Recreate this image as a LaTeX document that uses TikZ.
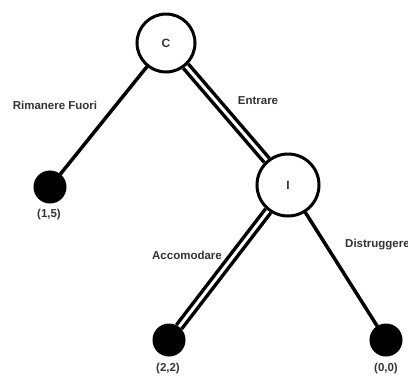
\documentclass[tikz,border=0pt]{standalone}
\usepackage{fontspec}
\setmainfont{Liberation Sans}
\usetikzlibrary{backgrounds}
\begin{document}
\begin{tikzpicture}[x=1pt,y=-1pt,
  decision/.style={circle,draw=black,line width=3pt,fill=white,inner sep=0pt,minimum size=#1,
    font=\fontsize{12}{13}\selectfont\bfseries,text=black!80},
  leaf/.style={circle,fill=black,draw=black,line width=1pt,inner sep=0pt,minimum size=32pt},
  lbl/.style={font=\fontsize{11.5}{13}\selectfont\bfseries,text=black!80,inner sep=0pt},
  move/.style={line width=3.5pt,line cap=round},
  chosen/.style={double=white,double distance=3pt,line width=3.5pt}]
\useasboundingbox (0,0) rectangle (408,378);
% decision nodes
\node[decision=58pt] (c) at (166,43) {C};
\node[decision=62pt] (i) at (288,185) {I};
% terminal nodes
\node[leaf] (l15) at (50,187) {};
\node[leaf] (l22) at (169,340) {};
\node[leaf] (l00) at (386,340) {};
% branches, kept behind the nodes
\begin{scope}[on background layer]
\draw[move] (c) -- (l15);
\draw[chosen] (c) -- (i);
\draw[chosen] (i) -- (l22);
\draw[move] (i) -- (l00);
\end{scope}
% labels
\node[lbl] (tRF) at (55,105) {Rimanere Fuori};
\node[lbl] (tEn) at (258,101) {Entrare};
\node[lbl] (tAc) at (187,255) {Accomodare};
\node[lbl,anchor=west] (tDi) at (345,245) {Distruggere};
\node[lbl] (p15) at (49,215) {(1,5)};
\node[lbl] (p22) at (168,369) {(2,2)};
\node[lbl] (p00) at (386,369) {(0,0)};
\end{tikzpicture}
\end{document}
